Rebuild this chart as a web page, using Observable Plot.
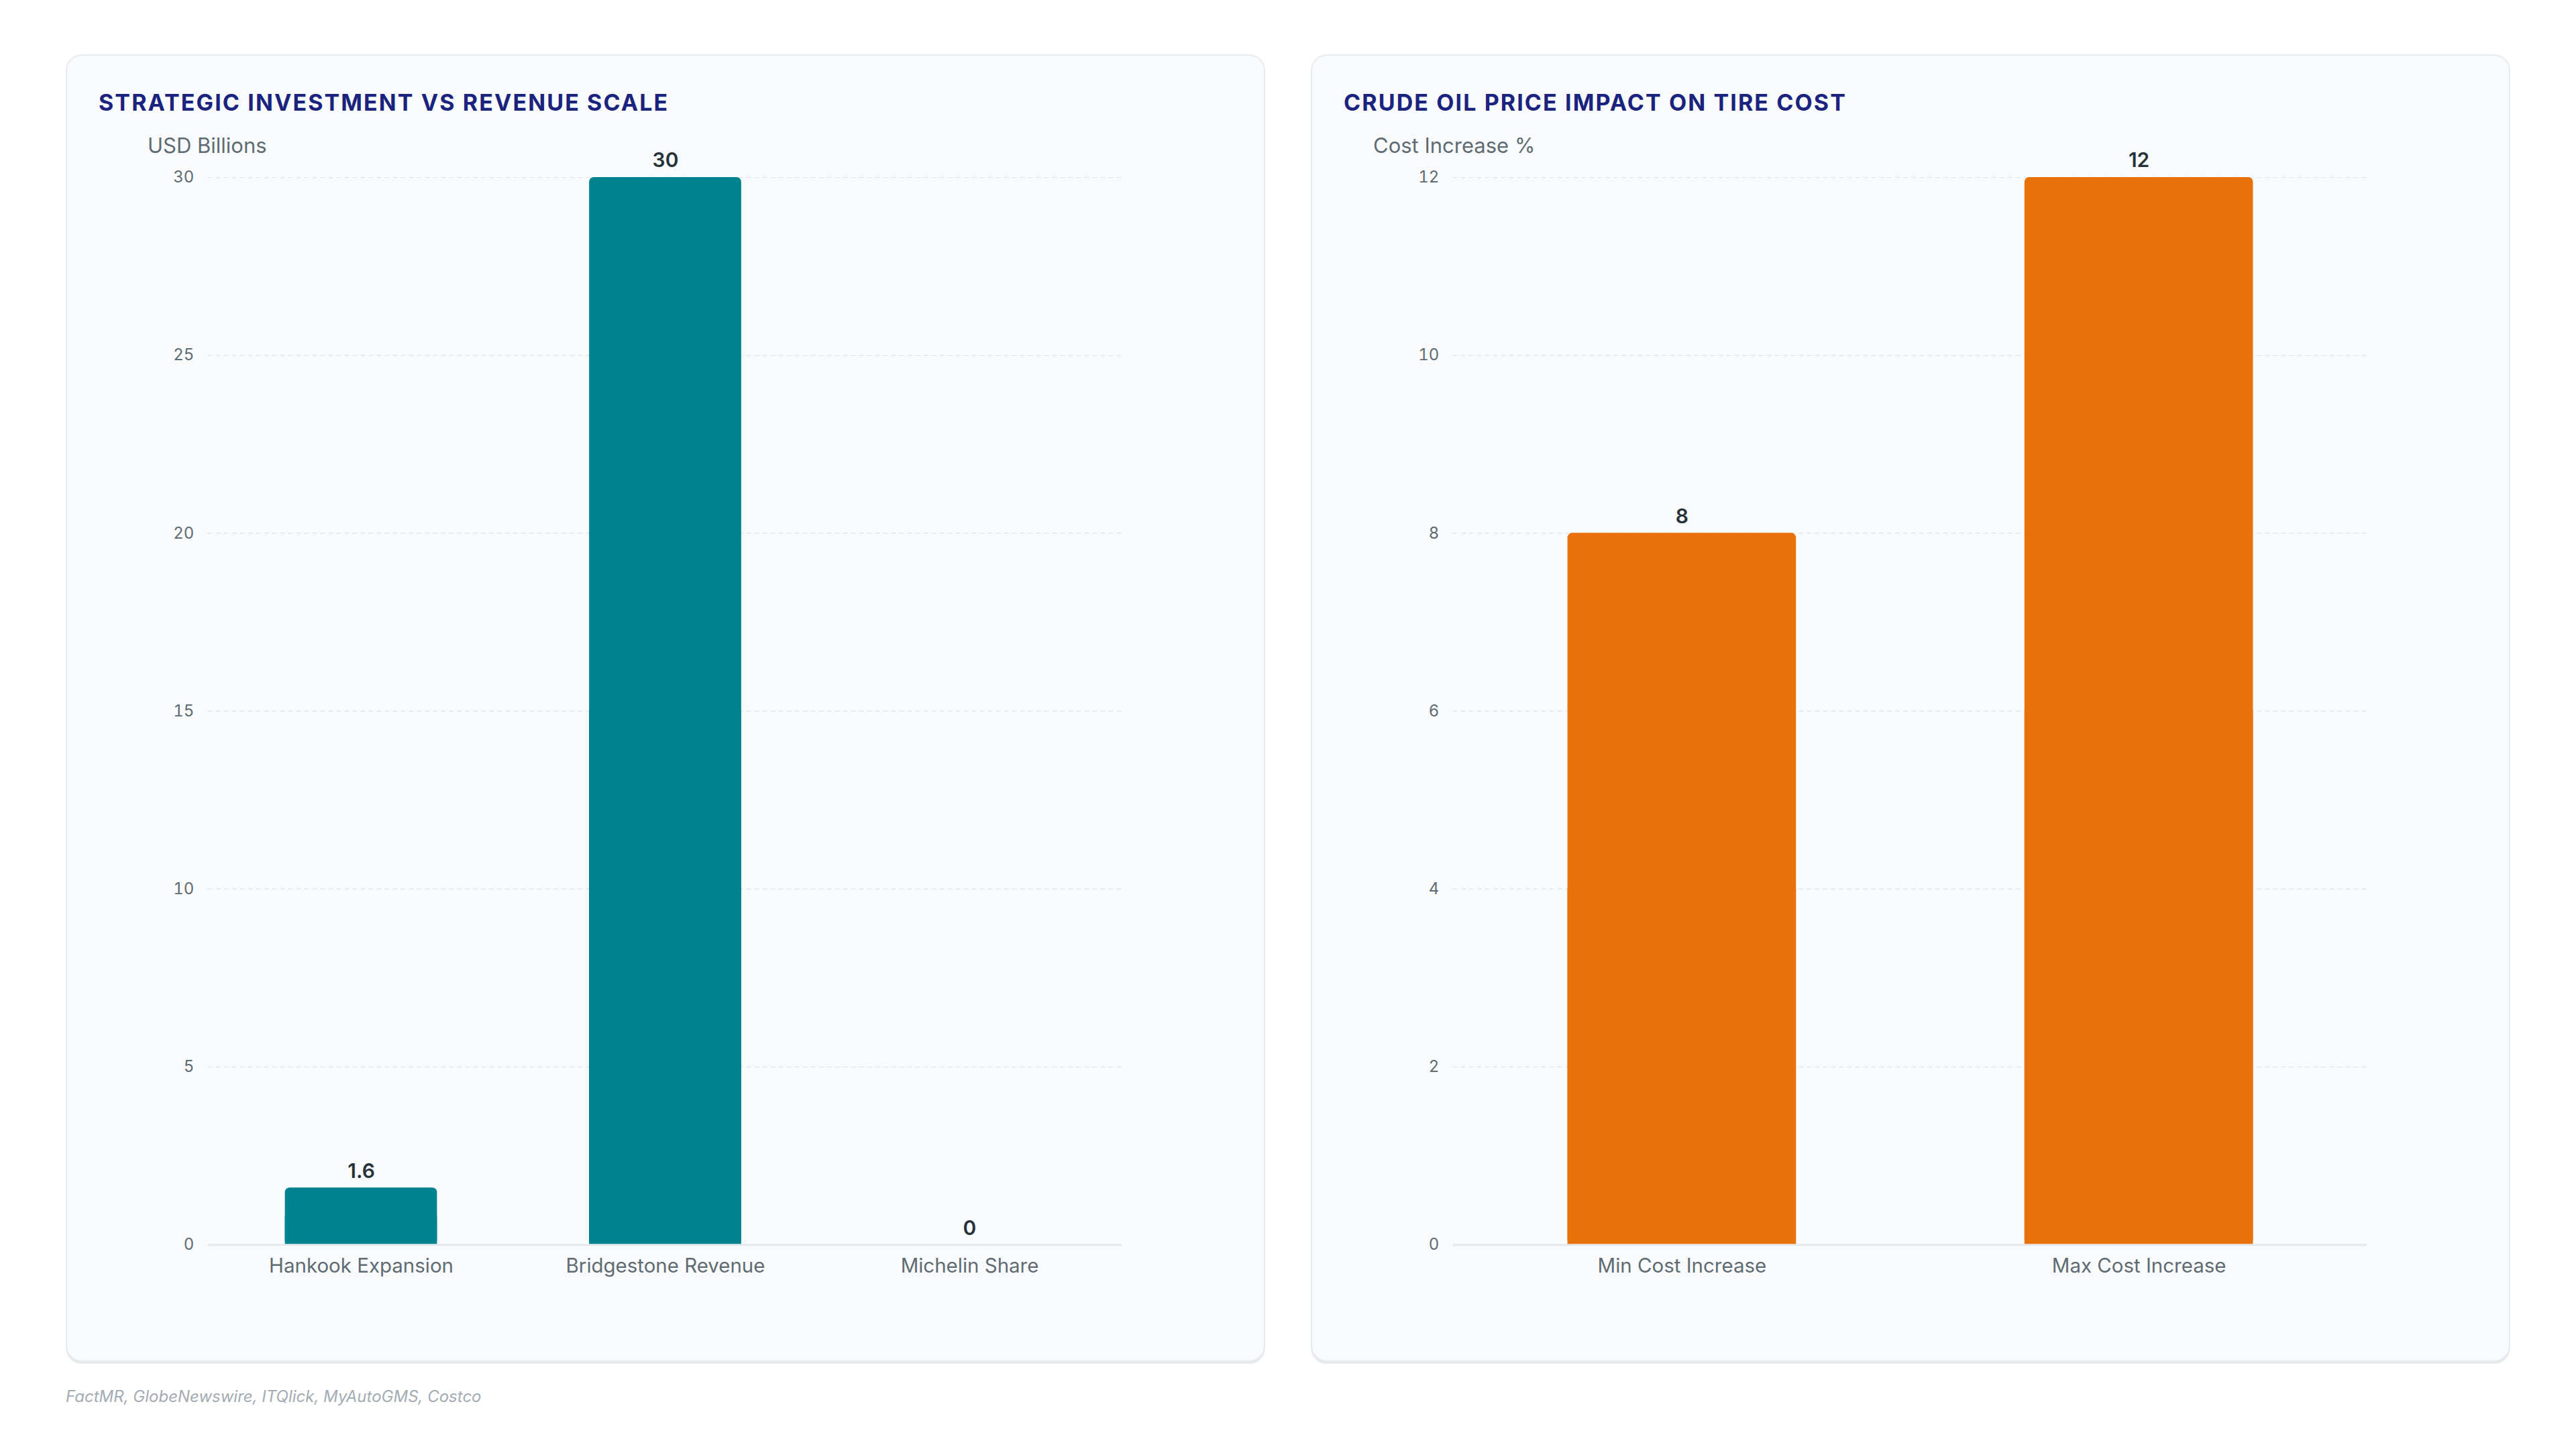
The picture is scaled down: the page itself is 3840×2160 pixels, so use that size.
<!DOCTYPE html>
<html>
<head>
<meta charset="utf-8">
<script src="https://cdn.jsdelivr.net/npm/d3@7"></script>
<script src="https://cdn.jsdelivr.net/npm/@observablehq/plot@0.6"></script>
<style>
  html, body { margin: 0; padding: 0; background: #ffffff; }
  body { width: 3840px; height: 2160px; position: relative; font-family: Inter, "Noto Sans", sans-serif; overflow: hidden; }
  .panel { position: absolute; top: 81px; width: 1788px; height: 1949px; box-sizing: border-box;
           background: #f8fafc; border: 2px solid #e8ebef; border-radius: 24px;
           box-shadow: 0 3px 0 #e6e9ed; }
  .title { position: absolute; left: 47px; top: 52px; font-size: 34px; line-height: 36px; font-weight: 700;
           color: #1a237e; letter-spacing: 2.1px; white-space: nowrap; }
  .unit { position: absolute; top: 117px; font-size: 31px; line-height: 34px; color: #5f6b72; white-space: nowrap; }
  .chart { position: absolute; left: -2px; top: 117px; }
  .caption { position: absolute; left: 98px; top: 2067px; font-size: 24px; font-style: italic; color: #a3abb3; }
</style>
</head>
<body>
<div class="panel" id="p1" style="left:98px">
  <div class="title">STRATEGIC INVESTMENT VS REVENUE SCALE</div>
  <div class="unit" style="left:120px">USD Billions</div>
  <div class="chart" id="c1"></div>
</div>
<div class="panel" id="p2" style="left:1954px">
  <div class="title">CRUDE OIL PRICE IMPACT ON TIRE COST</div>
  <div class="unit" style="left:91px">Cost Increase %</div>
  <div class="chart" id="c2"></div>
</div>
<div class="caption">FactMR, GlobeNewswire, ITQlick, MyAutoGMS, Costco</div>
<script>
const investCategories = ["Hankook Expansion", "Bridgestone Revenue", "Michelin Share"];
const investValues = [1.6, 30, 0];
const investTicks = [0, 5, 10, 15, 20, 25, 30];
const costCategories = ["Min Cost Increase", "Max Cost Increase"];
const costValues = [8, 12];
const costTicks = [0, 2, 4, 6, 8, 10, 12];

function barChart(categories, values, ticks, color) {
  const data = categories.map((c, i) => ({cat: c, val: values[i]}));
  return Plot.plot({
    width: 1788,
    height: 1750,
    marginLeft: 212,
    marginRight: 212,
    marginTop: 64,
    marginBottom: 93,
    style: {background: "transparent", fontFamily: "Inter, 'Noto Sans', sans-serif", overflow: "visible"},
    x: {domain: categories, paddingInner: 0.5, paddingOuter: 0.25, label: null},
    y: {domain: [ticks[0], ticks[ticks.length - 1]], label: null},
    marks: [
      Plot.gridY(ticks.filter(t => t !== 0), {stroke: "#e3e6ea", strokeOpacity: 1, strokeWidth: 1.5, strokeDasharray: "7,5"}),
      // rounded bar, then its lower half squared off so only the top corners stay rounded
      Plot.barY(data, {x: "cat", y: "val", fill: color, rx: 7, ry: 7}),
      Plot.barY(data, {x: "cat", y: d => d.val / 2, fill: color}),
      Plot.ruleY([0], {stroke: "#e6e8ec", strokeWidth: 3}),
      Plot.text(data, {x: "cat", y: "val", text: d => String(d.val), lineAnchor: "bottom", dy: -15,
                       fontSize: 30, fontWeight: 600, fill: "#263238"}),
      Plot.axisY({ticks: ticks, tickSize: 0, tickPadding: 21, fontSize: 24, color: "#5f6b72", label: null}),
      Plot.axisX({tickSize: 0, tickPadding: 20, fontSize: 29.5, color: "#5f6b72", label: null})
    ]
  });
}

document.getElementById("c1").appendChild(barChart(investCategories, investValues, investTicks, "#00838f"));
document.getElementById("c2").appendChild(barChart(costCategories, costValues, costTicks, "#e8710a"));
</script>
</body>
</html>
